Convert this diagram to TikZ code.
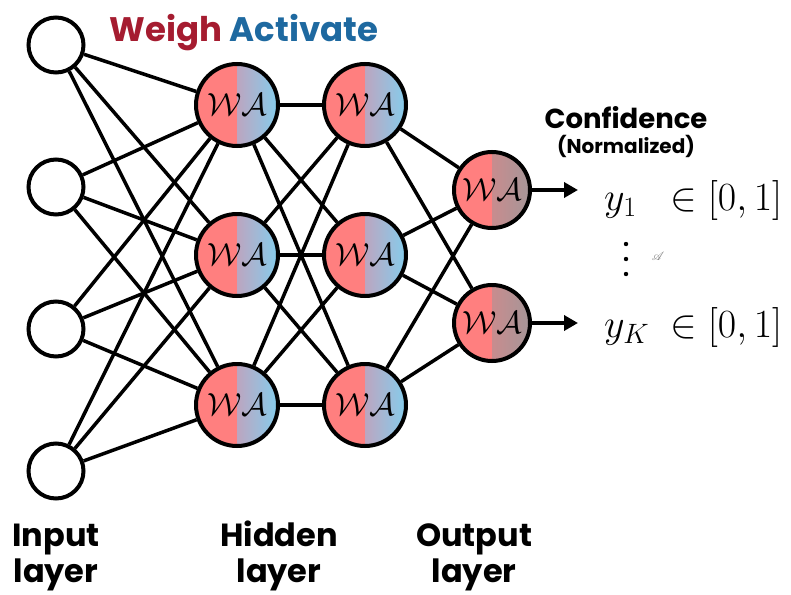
\RequirePackage{fix-cm}
\documentclass[tikz,border=0pt]{standalone}
\usepackage{fontspec}
\usepackage{mathrsfs}
\usetikzlibrary{arrows.meta,backgrounds}
\newfontfamily\labelfont{Poppins}

\definecolor{wred}{RGB}{255,127,127}
\definecolor{hmid}{RGB}{188,165,192}
\definecolor{hsky}{RGB}{133,205,236}
\definecolor{omid}{RGB}{200,140,142}
\definecolor{ogray}{RGB}{165,150,152}
\definecolor{tcrim}{RGB}{165,28,48}
\definecolor{tblue}{RGB}{30,105,160}

\tikzset{
  innode/.style={circle, draw, line width=4pt, fill=white,
    minimum size=55pt, inner sep=0pt},
  neuron/.style n args={3}{circle, draw, line width=4pt,
    minimum size=#1, inner sep=0pt,
    font=\fontsize{32}{32}\selectfont,
    path picture={
      \fill[wred] (path picture bounding box.south west)
        rectangle (path picture bounding box.north);
      \shade[left color=#2, right color=#3]
        (path picture bounding box.south)
        rectangle (path picture bounding box.north east);
    }},
  hidnode/.style={neuron={82pt}{hmid}{hsky}},
  outnode/.style={neuron={76pt}{omid}{ogray}},
  edge/.style={line width=3.5pt},
  outarrow/.style={line width=3.5pt, -{Triangle[length=14pt,width=15pt]}},
  layerlabel/.style={font=\labelfont\bfseries\fontsize{32}{36}\selectfont,
    align=center, anchor=base, inner sep=0pt},
  mathlabel/.style={font=\fontsize{40}{40}\selectfont, anchor=base west, inner sep=0pt},
}

\begin{document}
\begin{tikzpicture}[x=1pt, y=-1pt]
\useasboundingbox (0,0) rectangle (791,594);

% input layer
\node[innode] (i1) at (56,45) {};
\node[innode] (i2) at (56,187) {};
\node[innode] (i3) at (56,329) {};
\node[innode] (i4) at (56,471) {};

% hidden layers
\foreach \r/\y in {1/105,2/255,3/405} {
  \node[hidnode] (h\r) at (237,\y) {$\mathcal{W}\mathcal{A}$};
  \node[hidnode] (g\r) at (365,\y) {$\mathcal{W}\mathcal{A}$};
}

% output layer
\node[outnode] (o1) at (492,190) {$\mathcal{W}\mathcal{A}$};
\node[outnode] (o2) at (492,323) {$\mathcal{W}\mathcal{A}$};

% fully connected weights
\begin{scope}[on background layer]
  \foreach \a in {1,...,4} \foreach \b in {1,2,3} \draw[edge] (i\a) -- (h\b);
  \foreach \a in {1,2,3} \foreach \b in {1,2,3} \draw[edge] (h\a) -- (g\b);
  \foreach \a in {1,2,3} \foreach \b in {1,2} \draw[edge] (g\a) -- (o\b);
\end{scope}

% outputs
\coordinate (e1) at (578,190);
\coordinate (e2) at (578,323);
\draw[outarrow] (o1) -- (e1);
\draw[outarrow] (o2) -- (e2);

\node[mathlabel] (y1) at (604,210) {$y_1$};
\node[mathlabel] (r1) at (670,210) {$\in[0,1]$};
\node[mathlabel] (yk) at (604,337) {$y_K$};
\node[mathlabel] (rk) at (670,337) {$\in[0,1]$};

% vertical ellipsis between the outputs
\fill (626,244) circle (2.2pt);
\fill (626,259) circle (2.2pt);
\fill (626,274) circle (2.2pt);
\node[text=black!55, font=\fontsize{12}{12}\selectfont] (sa) at (658,256) {$\mathscr{A}$};

% headings
\node[font=\labelfont\bfseries\fontsize{34}{34}\selectfont] (title) at (244,33)
  {\textcolor{tcrim}{Weigh} \textcolor{tblue}{Activate}};
\node[font=\labelfont\bfseries\fontsize{27.5}{27.5}\selectfont] (conf) at (626,118) {Confidence};
\node[font=\labelfont\bfseries\fontsize{20}{20}\selectfont] (norm) at (626,146) {(Normalized)};

% layer names
\node[layerlabel] (lin) at (56,582) {Input\\layer};
\node[layerlabel] (lhid) at (279,582) {Hidden\\layer};
\node[layerlabel] (lout) at (474,582) {Output\\layer};
\end{tikzpicture}
\end{document}
